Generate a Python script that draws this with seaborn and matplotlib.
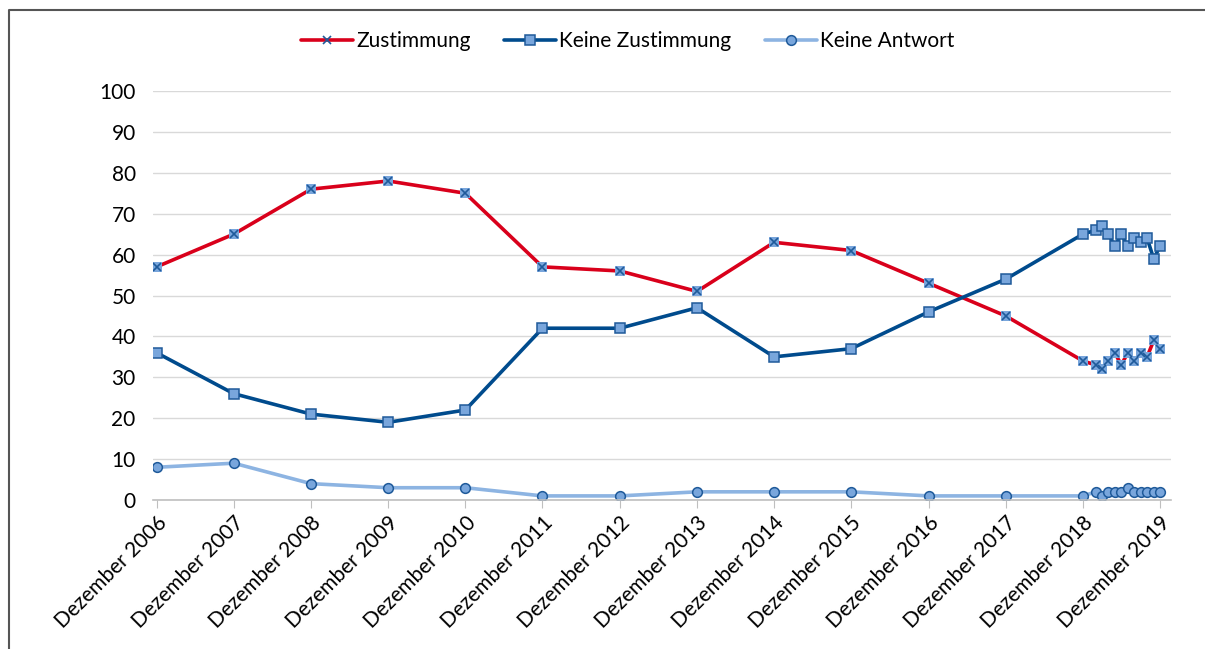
import seaborn as sns
import matplotlib.pyplot as plt
from matplotlib.lines import Line2D
import pandas as pd

# data
dates = ["2006-12", "2007-12", "2008-12", "2009-12", "2010-12", "2011-12",
         "2012-12", "2013-12", "2014-12", "2015-12", "2016-12", "2017-12",
         "2018-12", "2019-02", "2019-03", "2019-04", "2019-05", "2019-06",
         "2019-07", "2019-08", "2019-09", "2019-10", "2019-11", "2019-12"]
zustimmung = [57, 65, 76, 78, 75, 57, 56, 51, 63, 61, 53, 45,
              34, 33, 32, 34, 36, 33, 36, 34, 36, 35, 39, 37]
keine_zustimmung = [36, 26, 21, 19, 22, 42, 42, 47, 35, 37, 46, 54,
                    65, 66, 67, 65, 62, 65, 62, 64, 63, 64, 59, 62]
keine_antwort = [8, 9, 4, 3, 3, 1, 1, 2, 2, 2, 1, 1,
                 1, 2, 1, 2, 2, 2, 3, 2, 2, 2, 2, 2]
tick_years = list(range(2006, 2020))

df = pd.DataFrame({"datum": pd.to_datetime(dates),
                   "Zustimmung": zustimmung,
                   "Keine Zustimmung": keine_zustimmung,
                   "Keine Antwort": keine_antwort})

red = "#D9001B"
dblue = "#004B8D"
lblue = "#8DB4E2"
mface = "#79A6DC"
medge = "#1F5A9A"

sns.set_style("white")
plt.rcParams["font.family"] = ["Lato", "DejaVu Sans"]
plt.rcParams["text.color"] = "black"
plt.rcParams["xtick.labelcolor"] = "black"
plt.rcParams["ytick.labelcolor"] = "black"

fig = plt.figure(figsize=(12.05, 6.49), dpi=100)
ax = fig.add_axes([153/1205, 1 - 500/649, (1171 - 153)/1205, (500 - 91)/649])

# Zustimmung: red line, light-blue square behind a dark x
sns.lineplot(data=df, x="datum", y="Zustimmung", ax=ax, color=red, lw=2.6,
             marker="s", markersize=7, markerfacecolor=mface, markeredgewidth=0)
ax.plot(df["datum"], df["Zustimmung"], ls="none", marker="x", markersize=5.5,
        mec=medge, mew=1.2)
sns.lineplot(data=df, x="datum", y="Keine Zustimmung", ax=ax, color=dblue, lw=2.6,
             marker="s", markersize=7, markerfacecolor=mface, markeredgecolor=medge,
             markeredgewidth=1.1)
sns.lineplot(data=df, x="datum", y="Keine Antwort", ax=ax, color=lblue, lw=2.6,
             marker="o", markersize=7, markerfacecolor=mface, markeredgecolor=medge,
             markeredgewidth=1.1)

ax.set_ylim(0, 100)
ax.set_yticks(range(0, 101, 10))
ax.set_xlim(pd.Timestamp("2006-11-14"), pd.Timestamp("2020-01-22"))
ticks = [pd.Timestamp(f"{y}-12-01") for y in tick_years]
ax.set_xticks(ticks)
ax.set_xticklabels([f"Dezember {y}" for y in tick_years], rotation=45,
                   ha="right", va="top", rotation_mode="anchor")
ax.set_xlabel("")
ax.set_ylabel("")
ax.grid(axis="y", color="#D9D9D9", lw=1)
ax.set_axisbelow(True)
for s in ["top", "right", "left"]:
    ax.spines[s].set_visible(False)
ax.spines["bottom"].set_color("#BFBFBF")
ax.spines["bottom"].set_linewidth(1.2)
ax.tick_params(axis="x", bottom=True, length=6, color="#BFBFBF", labelsize=15, pad=3)
ax.tick_params(axis="y", left=False, labelsize=15, pad=9)

handles = [
    Line2D([], [], color=red, lw=2.6, marker="x", markersize=5.5, mec=medge,
           mfc=mface, mew=1.2),
    Line2D([], [], color=dblue, lw=2.6, marker="s", markersize=7, mfc=mface,
           mec=medge, mew=1.1),
    Line2D([], [], color=lblue, lw=2.6, marker="o", markersize=7, mfc=mface,
           mec=medge, mew=1.1),
]
fig.legend(handles, ["Zustimmung", "Keine Zustimmung", "Keine Antwort"],
           loc="center", bbox_to_anchor=(0.521, 1 - 41/649), ncol=3, frameon=False,
           fontsize=15, handlelength=2.5, handletextpad=0.15, columnspacing=1.6)

# outer frame (left and top edge)
fig.add_artist(Line2D([9/1205, 9/1205, 1.0], [0, 1 - 10/649, 1 - 10/649],
                      transform=fig.transFigure, color="#555555", lw=1.5))

fig.savefig("out.png", dpi=100)
